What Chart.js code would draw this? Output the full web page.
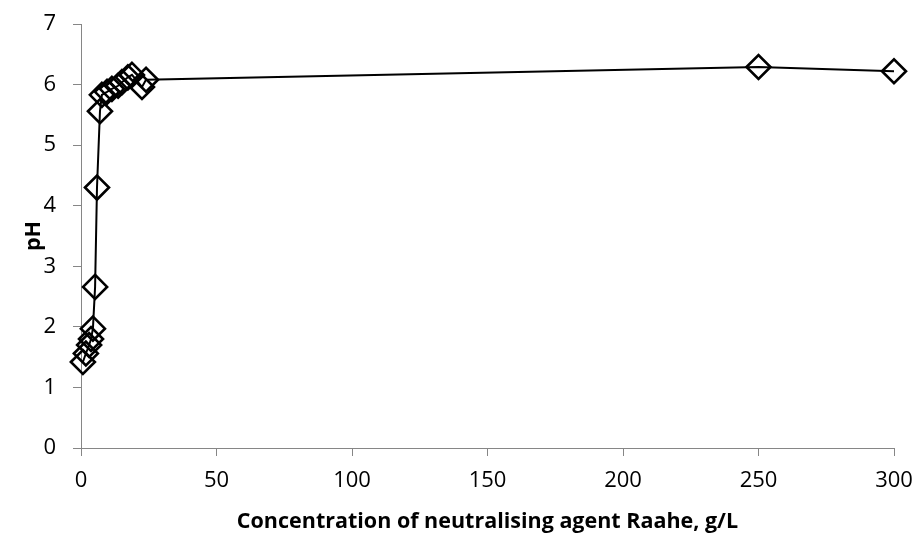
<!DOCTYPE html>
<html>
<head>
<meta charset="utf-8">
<script src="https://cdn.jsdelivr.net/npm/chart.js@4/dist/chart.umd.min.js"></script>
<style>
  html, body { margin: 0; padding: 0; background: #fff; }
  #wrap { width: 917px; height: 536px; }
</style>
</head>
<body>
<div id="wrap"><canvas id="c" width="917" height="536"></canvas></div>
<script>
// Dose of neutralising agent (g/L) and the resulting pH
const concentration = [0.7, 1.8, 3.0, 3.7, 4.4, 5.2, 5.9, 7.0, 7.7, 9.6, 11.4, 13.7, 15.1, 17.3, 18.8, 22.5, 24.0, 250, 300];
const phValues      = [1.42, 1.56, 1.70, 1.80, 1.97, 2.66, 4.30, 5.56, 5.83, 5.88, 5.93, 5.98, 6.04, 6.12, 6.16, 5.96, 6.08, 6.29, 6.22];
const xTicks = [0, 50, 100, 150, 200, 250, 300];
const yTicks = [0, 1, 2, 3, 4, 5, 6, 7];

const points = concentration.map((x, i) => ({ x: x, y: phValues[i] }));

const axisGray = '#868686';
const tickFont = { family: '"Open Sans", "Liberation Sans", sans-serif', size: 22 };
const titleFont = { family: '"Open Sans", "Liberation Sans", sans-serif', size: 21.5, weight: 'bold' };

new Chart(document.getElementById('c'), {
  type: 'scatter',
  data: {
    datasets: [{
      data: points,
      showLine: true,
      clip: false,
      borderColor: '#000',
      borderWidth: 2,
      pointStyle: 'rectRot',
      pointRadius: 12,
      pointBorderWidth: 2.6,
      pointBorderColor: '#000',
      pointBackgroundColor: 'rgba(0,0,0,0)',
      tension: 0
    }]
  },
  options: {
    responsive: false,
    animation: false,
    layout: { padding: { left: 0, right: 23, top: 24, bottom: 0 } },
    plugins: { legend: { display: false }, tooltip: { enabled: false } },
    scales: {
      x: {
        type: 'linear',
        min: 0, max: 300,
        afterBuildTicks: s => { s.ticks = xTicks.map(v => ({ value: v })); },
        afterFit: s => { s.height = 88; s.paddingLeft = 0; s.paddingRight = 0; },
        grid: { drawOnChartArea: false, color: axisGray, tickLength: 8, lineWidth: 1 },
        border: { color: axisGray, width: 1 },
        ticks: { color: '#000', font: tickFont, padding: 12, maxRotation: 0 },
        title: { display: true, text: 'Concentration of neutralising agent Raahe, g/L', color: '#000', font: titleFont, padding: { top: 0, bottom: 1 } }
      },
      y: {
        type: 'linear',
        min: 0, max: 7,
        afterBuildTicks: s => { s.ticks = yTicks.map(v => ({ value: v })); },
        afterFit: s => { s.width = 81; s.paddingTop = 0; s.paddingBottom = 0; },
        grid: { drawOnChartArea: false, color: axisGray, tickLength: 8, lineWidth: 1 },
        border: { color: axisGray, width: 1 },
        ticks: { color: '#000', font: tickFont, padding: 17 },
        title: { display: true, text: 'pH', color: '#000', font: titleFont, padding: { top: 21, bottom: 0 } }
      }
    }
  }
});
</script>
</body>
</html>
